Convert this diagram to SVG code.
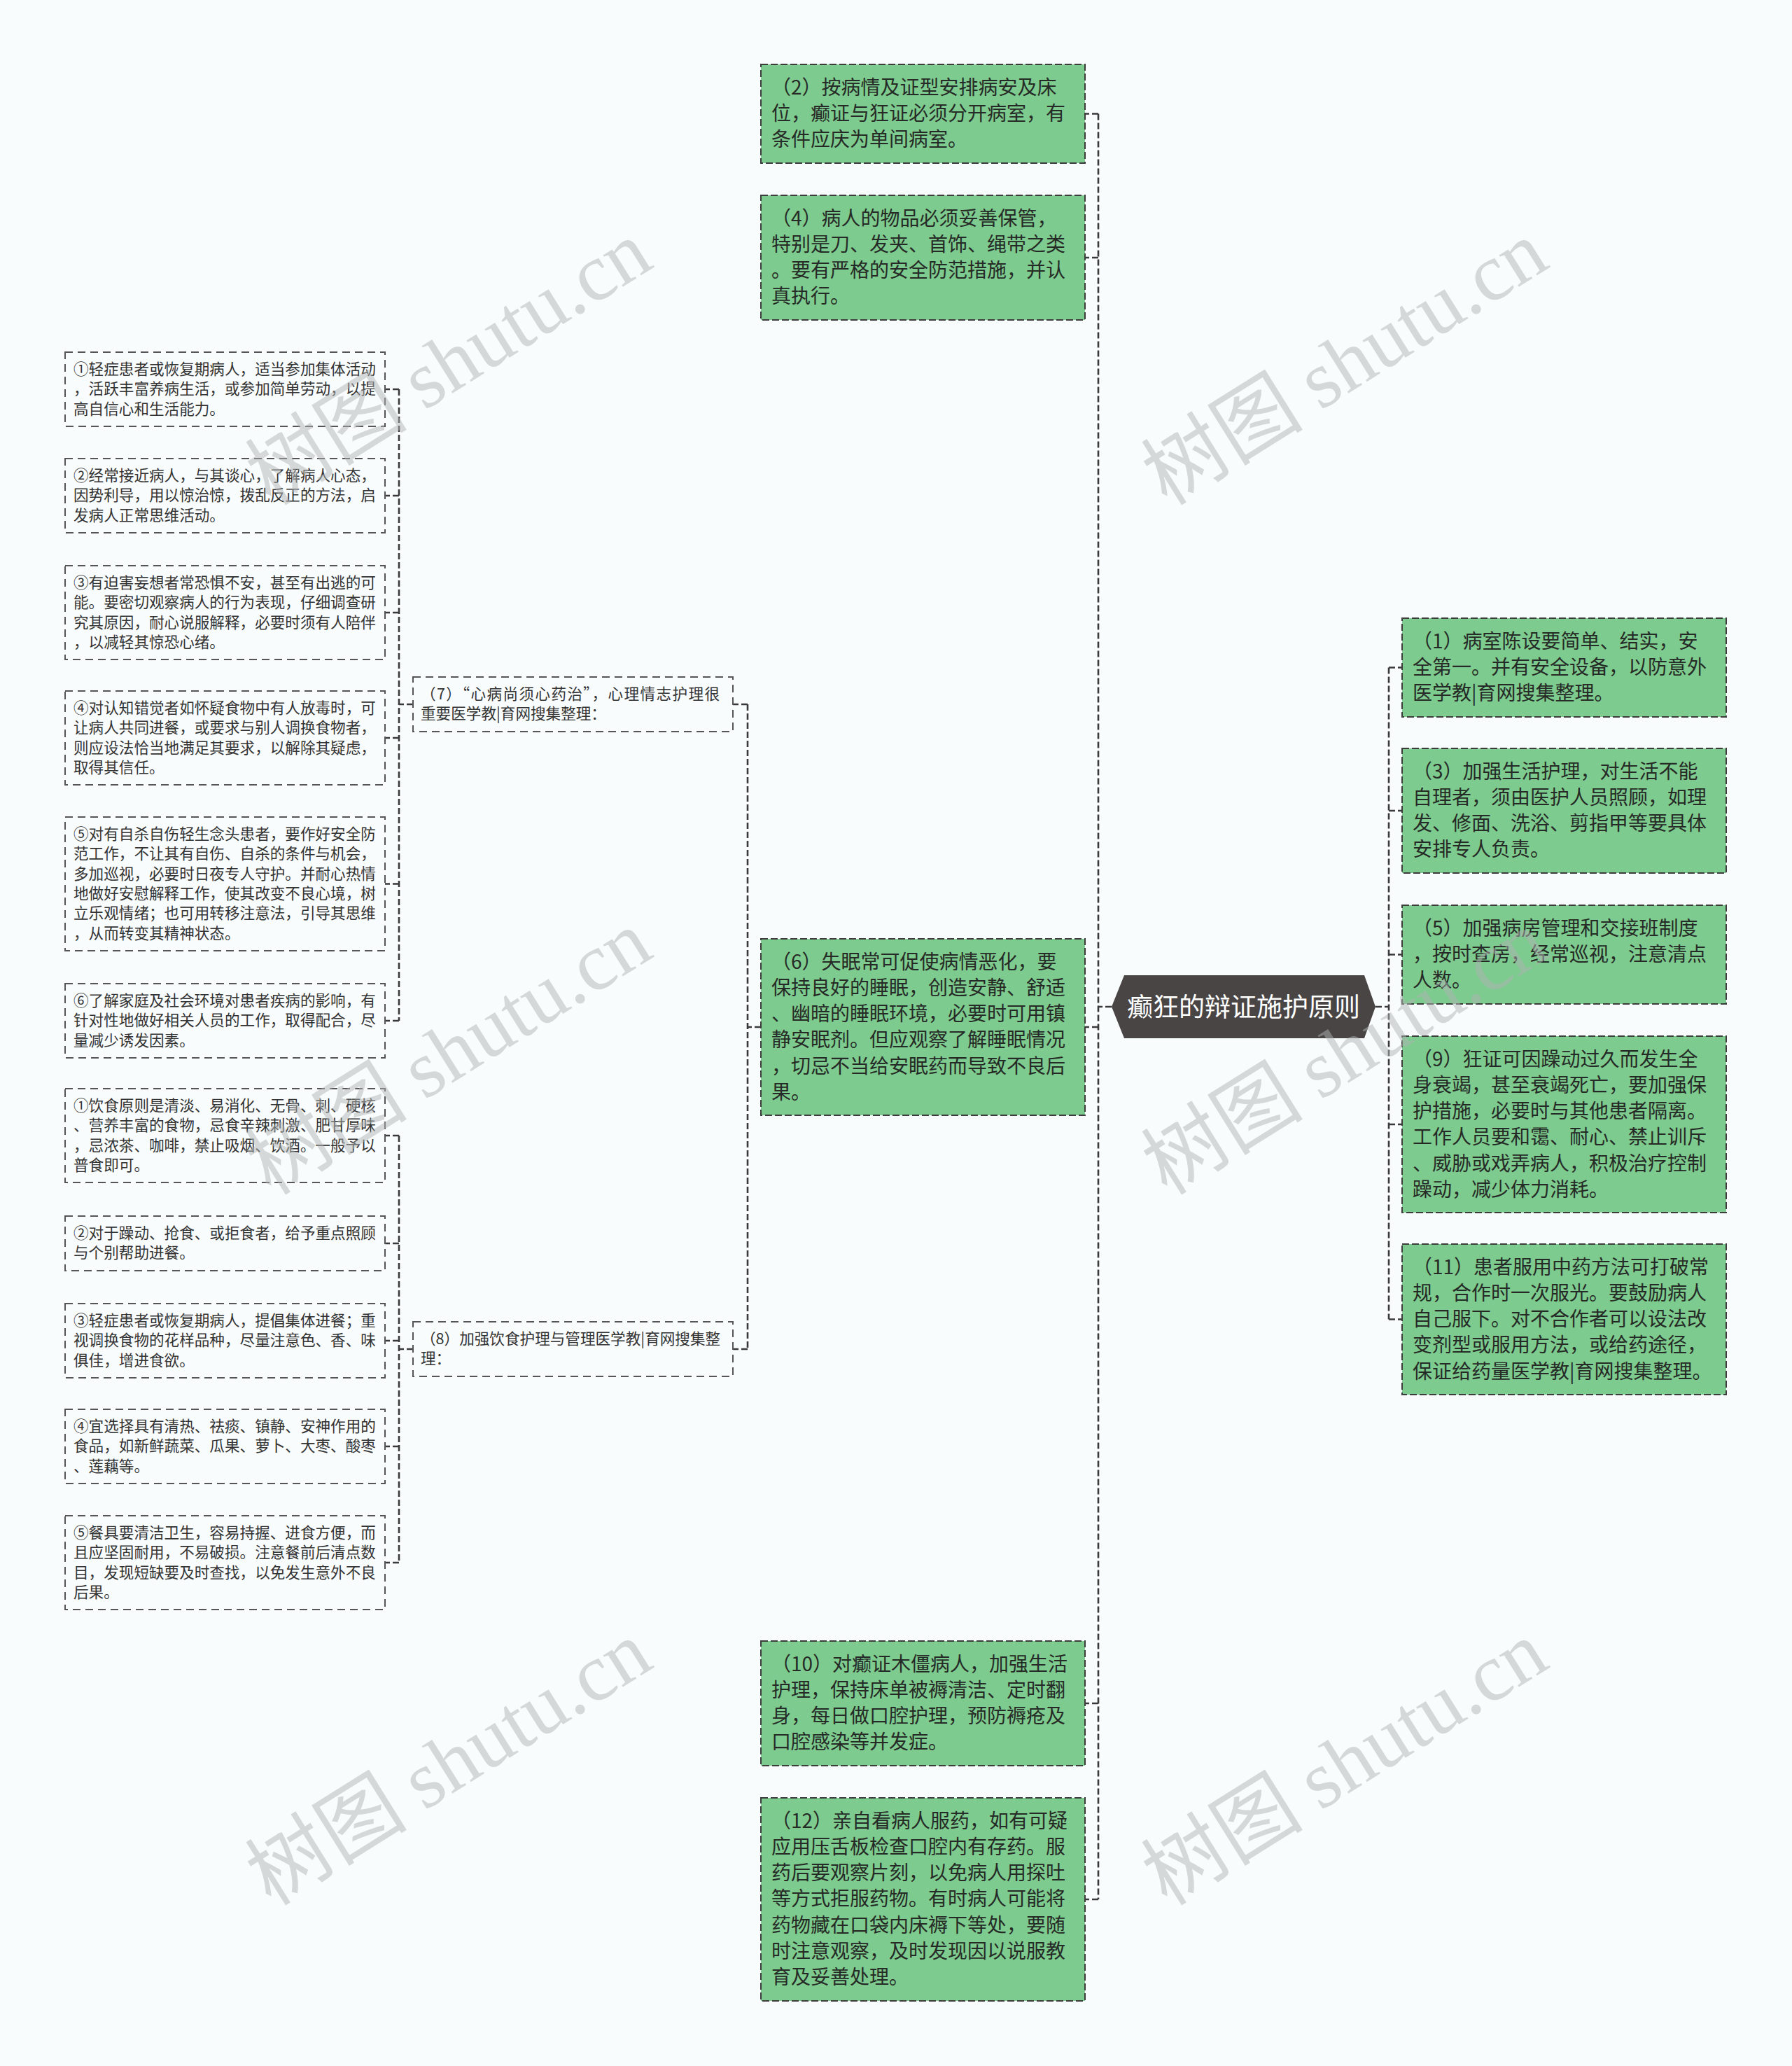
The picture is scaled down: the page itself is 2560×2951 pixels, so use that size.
<svg xmlns="http://www.w3.org/2000/svg" width="2560" height="2951" viewBox="0 0 2560 2951">
<style>
.bg{fill:#f9fcfd}
.gbox{fill:#7dcb8e;stroke:#3c3c3c;stroke-width:2;stroke-dasharray:10 4}
.wbox{fill:#f9fcfd;stroke:#555;stroke-width:2;stroke-dasharray:11 7}
.conn{fill:none;stroke:#3a3a3a;stroke-width:2.6;stroke-dasharray:9 4}
.gt{font-family:"Noto Sans CJK SC","Noto Sans",sans-serif;font-size:28px;fill:#262a26}
.st{font-family:"Noto Sans CJK SC","Noto Sans",sans-serif;font-size:21.6px;fill:#333}
.root{fill:#4a4545}
.rt{font-family:"Noto Sans CJK SC","Noto Sans",sans-serif;font-size:37px;fill:#ffffff;text-anchor:middle}
.wm{font-size:116px;fill:#b0b3b3;fill-opacity:0.5;text-anchor:middle}
</style>
<rect class="bg" x="0" y="0" width="2560" height="2951"/>

<g id="connectors">
  <path class="conn" d="M1588 1438 H1569"/>
  <path class="conn" d="M1569 162.5 V2713"/>
  <path class="conn" d="M1569 162.5 H1550 M1569 368 H1550 M1569 1467 H1550 M1569 2433 H1550 M1569 2713 H1550"/>
  <path class="conn" d="M1965 1438 H1984"/>
  <path class="conn" d="M1984 953.5 V1884.5"/>
  <path class="conn" d="M1984 953.5 H2003 M1984 1158 H2003 M1984 1363.5 H2003 M1984 1606 H2003 M1984 1884.5 H2003"/>
  <path class="conn" d="M1087 1467 H1068"/>
  <path class="conn" d="M1068 1006 V1927"/>
  <path class="conn" d="M1068 1006 H1047 M1068 1927 H1047"/>
  <path class="conn" d="M590 1006 H570"/>
  <path class="conn" d="M570 556 V1458"/>
  <path class="conn" d="M570 556 H550 M570 708 H550 M570 875 H550 M570 1054 H550 M570 1262.5 H550 M570 1458 H550"/>
  <path class="conn" d="M590 1927 H570"/>
  <path class="conn" d="M570 1622 V2232"/>
  <path class="conn" d="M570 1622 H550 M570 1776 H550 M570 1915 H550 M570 2066 H550 M570 2232 H550"/>
</g>

<g id="root">
  <polygon class="root" points="1588,1438 1606,1393 1949,1393 1965,1438 1949,1483 1606,1483"/>
  <text class="rt" x="1776.5" y="1452">癫狂的辩证施护原则</text>
</g>

<g id="n2">
  <rect class="gbox" x="1087" y="92" width="463" height="141"/>
  <text class="gt"><tspan x="1102" y="134.5">（2）按病情及证型安排病安及床</tspan><tspan x="1102" y="171.8">位，癫证与狂证必须分开病室，有</tspan><tspan x="1102" y="209.1">条件应庆为单间病室。</tspan></text>
</g>
<g id="n4">
  <rect class="gbox" x="1087" y="279" width="463" height="178"/>
  <text class="gt"><tspan x="1102" y="321.5">（4）病人的物品必须妥善保管，</tspan><tspan x="1102" y="358.8">特别是刀、发夹、首饰、绳带之类</tspan><tspan x="1102" y="396.1">。要有严格的安全防范措施，并认</tspan><tspan x="1102" y="433.4">真执行。</tspan></text>
</g>
<g id="n6">
  <rect class="gbox" x="1087" y="1341" width="463" height="252"/>
  <text class="gt"><tspan x="1102" y="1383.5">（6）失眠常可促使病情恶化，要</tspan><tspan x="1102" y="1420.8">保持良好的睡眠，创造安静、舒适</tspan><tspan x="1102" y="1458.1">、幽暗的睡眠环境，必要时可用镇</tspan><tspan x="1102" y="1495.4">静安眠剂。但应观察了解睡眠情况</tspan><tspan x="1102" y="1532.7">，切忌不当给安眠药而导致不良后</tspan><tspan x="1102" y="1570">果。</tspan></text>
</g>
<g id="n10">
  <rect class="gbox" x="1087" y="2344" width="463" height="178"/>
  <text class="gt"><tspan x="1102" y="2386.5">（10）对癫证木僵病人，加强生活</tspan><tspan x="1102" y="2423.8">护理，保持床单被褥清洁、定时翻</tspan><tspan x="1102" y="2461.1">身，每日做口腔护理，预防褥疮及</tspan><tspan x="1102" y="2498.4">口腔感染等并发症。</tspan></text>
</g>
<g id="n12">
  <rect class="gbox" x="1087" y="2568" width="463" height="290"/>
  <text class="gt"><tspan x="1102" y="2610.5">（12）亲自看病人服药，如有可疑</tspan><tspan x="1102" y="2647.8">应用压舌板检查口腔内有存药。服</tspan><tspan x="1102" y="2685.1">药后要观察片刻，以免病人用探吐</tspan><tspan x="1102" y="2722.4">等方式拒服药物。有时病人可能将</tspan><tspan x="1102" y="2759.7">药物藏在口袋内床褥下等处，要随</tspan><tspan x="1102" y="2797">时注意观察，及时发现因以说服教</tspan><tspan x="1102" y="2834.3">育及妥善处理。</tspan></text>
</g>

<g id="n1">
  <rect class="gbox" x="2003" y="883" width="463" height="141"/>
  <text class="gt"><tspan x="2018" y="925.5">（1）病室陈设要简单、结实，安</tspan><tspan x="2018" y="962.8">全第一。并有安全设备，以防意外</tspan><tspan x="2018" y="1000.1">医学教|育网搜集整理。</tspan></text>
</g>
<g id="n3">
  <rect class="gbox" x="2003" y="1069" width="463" height="178"/>
  <text class="gt"><tspan x="2018" y="1111.5">（3）加强生活护理，对生活不能</tspan><tspan x="2018" y="1148.8">自理者，须由医护人员照顾，如理</tspan><tspan x="2018" y="1186.1">发、修面、洗浴、剪指甲等要具体</tspan><tspan x="2018" y="1223.4">安排专人负责。</tspan></text>
</g>
<g id="n5">
  <rect class="gbox" x="2003" y="1293" width="463" height="141"/>
  <text class="gt"><tspan x="2018" y="1335.5">（5）加强病房管理和交接班制度</tspan><tspan x="2018" y="1372.8">，按时查房，经常巡视，注意清点</tspan><tspan x="2018" y="1410.1">人数。</tspan></text>
</g>
<g id="n9">
  <rect class="gbox" x="2003" y="1480" width="463" height="252"/>
  <text class="gt"><tspan x="2018" y="1522.5">（9）狂证可因躁动过久而发生全</tspan><tspan x="2018" y="1559.8">身衰竭，甚至衰竭死亡，要加强保</tspan><tspan x="2018" y="1597.1">护措施，必要时与其他患者隔离。</tspan><tspan x="2018" y="1634.4">工作人员要和霭、耐心、禁止训斥</tspan><tspan x="2018" y="1671.7">、威胁或戏弄病人，积极治疗控制</tspan><tspan x="2018" y="1709">躁动，减少体力消耗。</tspan></text>
</g>
<g id="n11">
  <rect class="gbox" x="2003" y="1777" width="463" height="215"/>
  <text class="gt"><tspan x="2018" y="1819.5">（11）患者服用中药方法可打破常</tspan><tspan x="2018" y="1856.8">规，合作时一次服光。要鼓励病人</tspan><tspan x="2018" y="1894.1">自己服下。对不合作者可以设法改</tspan><tspan x="2018" y="1931.4">变剂型或服用方法，或给药途径，</tspan><tspan x="2018" y="1968.7">保证给药量医学教|育网搜集整理。</tspan></text>
</g>

<g id="n7">
  <rect class="wbox" x="590" y="967" width="457" height="78"/>
  <text class="st"><tspan x="601" y="999" textLength="427" lengthAdjust="spacing">（7）“心病尚须心药治”，心理情志护理很</tspan><tspan x="601" y="1027.3">重要医学教|育网搜集整理：</tspan></text>
</g>
<g id="n8">
  <rect class="wbox" x="590" y="1888" width="457" height="78"/>
  <text class="st"><tspan x="601" y="1920">（8）加强饮食护理与管理医学教|育网搜集整</tspan><tspan x="601" y="1948.3">理：</tspan></text>
</g>

<g id="n7-1">
  <rect class="wbox" x="93" y="503" width="457" height="106"/>
  <text class="st"><tspan x="105" y="535">①轻症患者或恢复期病人，适当参加集体活动</tspan><tspan x="105" y="563.3">，活跃丰富养病生活，或参加简单劳动，以提</tspan><tspan x="105" y="591.6">高自信心和生活能力。</tspan></text>
</g>
<g id="n7-2">
  <rect class="wbox" x="93" y="655" width="457" height="106"/>
  <text class="st"><tspan x="105" y="687">②经常接近病人，与其谈心，了解病人心态，</tspan><tspan x="105" y="715.3">因势利导，用以惊治惊，拨乱反正的方法，启</tspan><tspan x="105" y="743.6">发病人正常思维活动。</tspan></text>
</g>
<g id="n7-3">
  <rect class="wbox" x="93" y="808" width="457" height="134"/>
  <text class="st"><tspan x="105" y="840">③有迫害妄想者常恐惧不安，甚至有出逃的可</tspan><tspan x="105" y="868.3">能。要密切观察病人的行为表现，仔细调查研</tspan><tspan x="105" y="896.6">究其原因，耐心说服解释，必要时须有人陪伴</tspan><tspan x="105" y="924.9">，以减轻其惊恐心绪。</tspan></text>
</g>
<g id="n7-4">
  <rect class="wbox" x="93" y="987" width="457" height="134"/>
  <text class="st"><tspan x="105" y="1019">④对认知错觉者如怀疑食物中有人放毒时，可</tspan><tspan x="105" y="1047.3">让病人共同进餐，或要求与别人调换食物者，</tspan><tspan x="105" y="1075.6">则应设法恰当地满足其要求，以解除其疑虑，</tspan><tspan x="105" y="1103.9">取得其信任。</tspan></text>
</g>
<g id="n7-5">
  <rect class="wbox" x="93" y="1167" width="457" height="191"/>
  <text class="st"><tspan x="105" y="1199">⑤对有自杀自伤轻生念头患者，要作好安全防</tspan><tspan x="105" y="1227.3">范工作，不让其有自伤、自杀的条件与机会，</tspan><tspan x="105" y="1255.6">多加巡视，必要时日夜专人守护。并耐心热情</tspan><tspan x="105" y="1283.9">地做好安慰解释工作，使其改变不良心境，树</tspan><tspan x="105" y="1312.2">立乐观情绪；也可用转移注意法，引导其思维</tspan><tspan x="105" y="1340.5">，从而转变其精神状态。</tspan></text>
</g>
<g id="n7-6">
  <rect class="wbox" x="93" y="1405" width="457" height="106"/>
  <text class="st"><tspan x="105" y="1437">⑥了解家庭及社会环境对患者疾病的影响，有</tspan><tspan x="105" y="1465.3">针对性地做好相关人员的工作，取得配合，尽</tspan><tspan x="105" y="1493.6">量减少诱发因素。</tspan></text>
</g>

<g id="n8-1">
  <rect class="wbox" x="93" y="1555" width="457" height="134"/>
  <text class="st"><tspan x="105" y="1587">①饮食原则是清淡、易消化、无骨、刺、硬核</tspan><tspan x="105" y="1615.3">、营养丰富的食物，忌食辛辣刺激、肥甘厚味</tspan><tspan x="105" y="1643.6">，忌浓茶、咖啡，禁止吸烟、饮酒。一般予以</tspan><tspan x="105" y="1671.9">普食即可。</tspan></text>
</g>
<g id="n8-2">
  <rect class="wbox" x="93" y="1737" width="457" height="78"/>
  <text class="st"><tspan x="105" y="1769">②对于躁动、抢食、或拒食者，给予重点照顾</tspan><tspan x="105" y="1797.3">与个别帮助进餐。</tspan></text>
</g>
<g id="n8-3">
  <rect class="wbox" x="93" y="1862" width="457" height="106"/>
  <text class="st"><tspan x="105" y="1894">③轻症患者或恢复期病人，提倡集体进餐；重</tspan><tspan x="105" y="1922.3">视调换食物的花样品种，尽量注意色、香、味</tspan><tspan x="105" y="1950.6">俱佳，增进食欲。</tspan></text>
</g>
<g id="n8-4">
  <rect class="wbox" x="93" y="2013" width="457" height="106"/>
  <text class="st"><tspan x="105" y="2045">④宜选择具有清热、祛痰、镇静、安神作用的</tspan><tspan x="105" y="2073.3">食品，如新鲜蔬菜、瓜果、萝卜、大枣、酸枣</tspan><tspan x="105" y="2101.6">、莲藕等。</tspan></text>
</g>
<g id="n8-5">
  <rect class="wbox" x="93" y="2165" width="457" height="134"/>
  <text class="st"><tspan x="105" y="2197">⑤餐具要清洁卫生，容易持握、进食方便，而</tspan><tspan x="105" y="2225.3">且应坚固耐用，不易破损。注意餐前后清点数</tspan><tspan x="105" y="2253.6">目，发现短缺要及时查找，以免发生意外不良</tspan><tspan x="105" y="2281.9">后果。</tspan></text>
</g>

<g id="watermarks">
  <text class="wm" transform="translate(662 552) rotate(-32)"><tspan font-family="Noto Sans CJK SC, sans-serif">树图 </tspan><tspan font-family="Liberation Serif, serif">shutu.cn</tspan></text>
  <text class="wm" transform="translate(1942 552) rotate(-32)"><tspan font-family="Noto Sans CJK SC, sans-serif">树图 </tspan><tspan font-family="Liberation Serif, serif">shutu.cn</tspan></text>
  <text class="wm" transform="translate(662 1537) rotate(-32)"><tspan font-family="Noto Sans CJK SC, sans-serif">树图 </tspan><tspan font-family="Liberation Serif, serif">shutu.cn</tspan></text>
  <text class="wm" transform="translate(1942 1537) rotate(-32)"><tspan font-family="Noto Sans CJK SC, sans-serif">树图 </tspan><tspan font-family="Liberation Serif, serif">shutu.cn</tspan></text>
  <text class="wm" transform="translate(662 2552) rotate(-32)"><tspan font-family="Noto Sans CJK SC, sans-serif">树图 </tspan><tspan font-family="Liberation Serif, serif">shutu.cn</tspan></text>
  <text class="wm" transform="translate(1942 2552) rotate(-32)"><tspan font-family="Noto Sans CJK SC, sans-serif">树图 </tspan><tspan font-family="Liberation Serif, serif">shutu.cn</tspan></text>
</g>
</svg>
